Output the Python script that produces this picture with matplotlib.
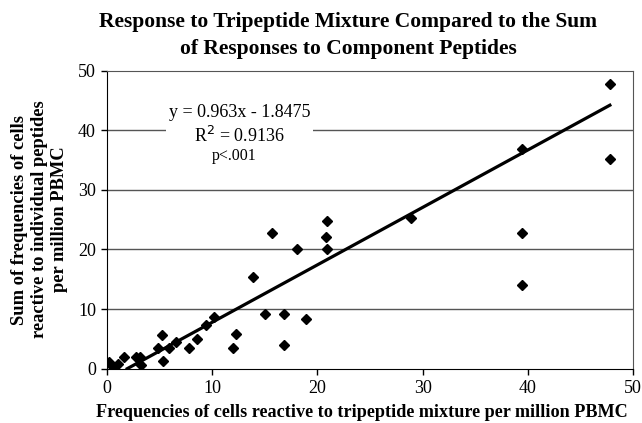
import matplotlib.pyplot as plt
import numpy as np

plt.rcParams['font.family'] = ['Liberation Serif', 'DejaVu Serif']

# tripeptide mixture response (x) vs sum of single peptide responses (y)
tripeptide = [0.2, 0.4, 0.7, 1.0, 1.6, 2.8, 3.1, 3.2, 4.8, 5.2, 5.3, 5.9, 6.6,
              7.8, 8.6, 9.4, 10.2, 12.0, 12.3, 13.9, 15.0, 15.7, 16.8, 16.8,
              18.1, 18.9, 20.8, 20.9, 20.9, 28.9, 39.4, 39.4, 39.4, 47.8, 47.8]
peptide_sum = [1.2, 0.6, 0.3, 0.8, 1.9, 2.0, 2.0, 0.7, 3.5, 5.7, 1.3, 3.4, 4.4,
               3.5, 5.0, 7.4, 8.7, 3.4, 5.9, 15.4, 9.2, 22.7, 9.2, 3.9,
               20.0, 8.4, 22.1, 24.7, 20.1, 25.2, 36.9, 22.8, 14.1, 47.8, 35.1]

slope = 0.963
intercept = -1.8475
r_squared = 0.9136

x_ticks = [0, 10, 20, 30, 40, 50]
y_ticks = [0, 10, 20, 30, 40, 50]

fig = plt.figure(figsize=(6.42, 4.23), dpi=100)
ax = fig.add_axes([0.1667, 0.1284, 0.8193, 0.7049])

for y in y_ticks[1:-1]:
    ax.axhline(y, color='#555555', linewidth=1.0, zorder=1)

ax.plot(tripeptide, peptide_sum, linestyle='none', marker='D', markersize=5,
        color='black', zorder=3)

x_fit = np.array([-intercept / slope, max(tripeptide)])
ax.plot(x_fit, slope * x_fit + intercept, color='black', linewidth=2.3, zorder=4)

ax.text(12.6, 40.9, f'y = {slope}x - {-intercept}\nR$^2$ = {r_squared}',
        ha='center', va='center', fontsize=13, linespacing=1.32,
        bbox=dict(facecolor='white', edgecolor='none', pad=2), zorder=5)
ax.text(12.1, 35.6, 'p<.001', ha='center', va='center', fontsize=11.5, zorder=6)

ax.set_xlim(0, 50)
ax.set_ylim(0, 50)
ax.set_xticks(x_ticks)
ax.set_yticks(y_ticks)
ax.tick_params(direction='out', length=4.5, width=1, labelsize=13)
for side in ['top', 'right']:
    ax.spines[side].set_color('#555555')

ax.set_xlabel('Frequencies of cells reactive to tripeptide mixture per million PBMC',
              fontsize=13.1, fontweight='bold', labelpad=5)
ax.xaxis.label.set_x(0.485)
ax.set_ylabel('Sum of frequencies of cells\nreactive to individual peptides\nper million PBMC',
              fontsize=13.3, fontweight='bold', linespacing=1.22, labelpad=7)
fig.text(0.542, 0.972,
         'Response to Tripeptide Mixture Compared to the Sum\nof Responses to Component Peptides',
         ha='center', va='top', fontsize=15.5, fontweight='bold', linespacing=1.5)

fig.savefig('out.png', dpi=100)
